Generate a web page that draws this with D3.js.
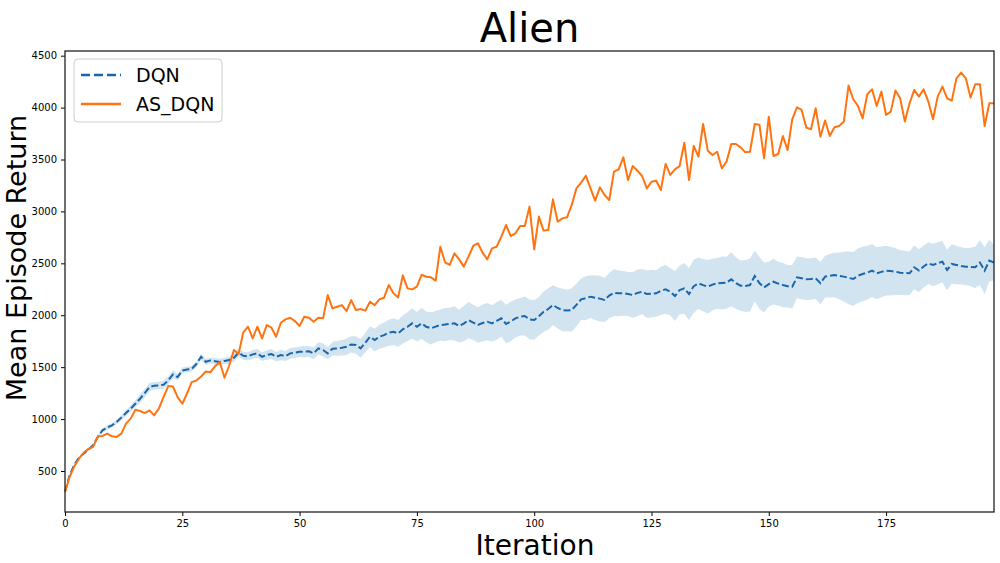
<!DOCTYPE html>
<html><head><meta charset="utf-8">
<script src="https://cdn.jsdelivr.net/npm/d3@7"></script>
<style>body{margin:0;background:#fff}svg{display:block}text{font-family:"DejaVu Sans",sans-serif}</style>
</head><body><svg id="c" width="1000" height="563"></svg>
<script>
const title = "Alien";
const seriesNames = ["DQN", "AS_DQN"];
const xTicks = [0, 25, 50, 75, 100, 125, 150, 175];
const yTicks = [500, 1000, 1500, 2000, 2500, 3000, 3500, 4000, 4500];
const dqn = [300,460,560,630,668,706,748,828,892,918,940,972,1014,1058,1100,1148,1196,1250,1308,1320,
1324,1330,1372,1430,1404,1468,1478,1484,1530,1600,1552,1565,1558,1550,1560,1568,1590,1640,1610,1604,
1623,1633,1600,1617,1626,1600,1617,1607,1633,1639,1649,1649,1652,1633,1681,1665,1633,1678,1681,1687,
1697,1719,1713,1681,1735,1793,1761,1793,1809,1832,1841,1825,1864,1889,1922,1889,1922,1889,1874,1890,
1906,1910,1916,1922,1896,1920,1954,1930,1906,1925,1938,1922,1945,1970,1916,1940,1970,1985,1993,1960,
1954,1990,2034,2060,2098,2070,2050,2045,2050,2100,2153,2165,2179,2169,2160,2147,2190,2217,2211,2211,
2205,2195,2215,2227,2204,2208,2211,2235,2249,2227,2185,2243,2259,2204,2280,2307,2290,2275,2295,2307,
2310,2313,2346,2310,2285,2281,2291,2378,2310,2268,2300,2323,2305,2291,2280,2275,2365,2356,2346,2350,
2356,2308,2372,2380,2388,2380,2372,2360,2349,2380,2397,2410,2430,2404,2418,2430,2425,2420,2410,2407,
2404,2462,2430,2470,2500,2484,2500,2516,2436,2494,2484,2475,2468,2465,2462,2507,2430,2526,2507];
const dqnStd = [5,8,10,12,14,15,16,18,20,20,22,24,25,28,30,35,40,42,40,38,
35,38,40,38,30,28,25,25,28,30,30,28,30,32,30,35,38,40,38,40,
42,45,40,45,48,45,50,48,52,50,50,55,52,58,60,62,58,65,70,75,
80,78,85,90,95,100,110,115,120,125,130,128,135,140,145,142,150,148,155,150,
150,160,155,165,158,170,175,168,172,178,180,175,182,178,185,190,185,180,188,192,
190,185,195,200,192,198,205,200,210,205,200,210,205,215,220,212,218,225,220,215,
212,220,225,218,228,230,222,232,235,228,240,235,245,250,255,248,252,258,250,245,
255,250,260,248,242,250,255,245,250,240,215,220,210,215,205,210,200,205,200,200,
200,205,200,210,215,225,240,255,260,262,263,260,255,250,245,240,235,225,215,215,
210,212,205,202,200,205,202,200,195,190,185,180,177,185,200,215,225,200,170];
const asDqn = [300,444,546,620,678,713,732,834,838,860,834,828,860,956,1004,1090,1078,1058,1084,1036,
1100,1212,1318,1314,1212,1148,1244,1356,1372,1410,1458,1452,1510,1548,1398,1516,1666,1628,1836,1890,
1777,1890,1777,1906,1880,1793,1928,1960,1976,1944,1896,1986,1976,1938,1976,1970,2195,2066,2082,2098,
2040,2146,2050,2060,2044,2130,2098,2153,2169,2291,2211,2172,2384,2259,2249,2275,2390,2371,2365,2333,
2660,2510,2484,2596,2538,2468,2564,2667,2693,2603,2538,2644,2660,2757,2869,2763,2789,2860,2860,3046,
2635,2950,2815,2821,3116,2901,2933,2943,3062,3222,3277,3344,3222,3104,3232,3158,3110,3383,3405,3521,
3302,3437,3392,3341,3222,3286,3296,3206,3457,3351,3405,3437,3662,3302,3630,3527,3842,3585,3543,3575,
3415,3479,3649,3649,3617,3569,3575,3842,3835,3511,3912,3534,3553,3726,3591,3887,4002,3977,3807,3791,
3993,3720,3875,3727,3810,3823,3865,4212,4080,4016,3897,4128,4176,4016,4154,3929,3961,4164,4090,3865,
4042,4170,4106,4176,4058,3887,4106,4202,4090,4067,4282,4337,4282,4096,4225,4225,3823,4042,4042];

const svg = d3.select("#c");
const L = 65, R = 994, T = 51, B = 512;
const x = d3.scaleLinear().domain([0, 198]).range([L, R]);
const y = d3.scaleLinear().domain([105, 4545]).range([B, T]);
const blue = "#1a66ad", orange = "#ff7410";

const idx = d3.range(dqn.length);
svg.append("path").datum(idx)
  .attr("fill", "#1f77b4").attr("fill-opacity", 0.2).attr("stroke", "none")
  .attr("d", d3.area().x(i => x(i)).y0(i => y(dqn[i] - dqnStd[i])).y1(i => y(dqn[i] + dqnStd[i])));
svg.append("path").datum(idx)
  .attr("fill", "none").attr("stroke", blue).attr("stroke-width", 2).attr("stroke-dasharray", "7,3")
  .attr("d", d3.line().x(i => x(i)).y(i => y(dqn[i])));
svg.append("path").datum(d3.range(asDqn.length))
  .attr("fill", "none").attr("stroke", orange).attr("stroke-width", 2).attr("stroke-linejoin", "round")
  .attr("d", d3.line().x(i => x(i)).y(i => y(asDqn[i])));

// axes
const gx = svg.append("g").attr("transform", `translate(0,${B})`)
  .call(d3.axisBottom(x).tickValues(xTicks).tickSize(4).tickPadding(4).tickFormat(d3.format("d")));
const gy = svg.append("g").attr("transform", `translate(${L},0)`)
  .call(d3.axisLeft(y).tickValues(yTicks).tickSize(4).tickPadding(4).tickFormat(d3.format("d")));
[gx, gy].forEach(g => {
  g.select(".domain").remove();
  g.selectAll("text").attr("font-size", 10).attr("fill", "#000").attr("font-family", "DejaVu Sans");
  g.selectAll("line").attr("stroke", "#000").attr("stroke-width", 1);
});
svg.append("rect").attr("x", L).attr("y", T).attr("width", R - L).attr("height", B - T)
  .attr("fill", "none").attr("stroke", "#222").attr("stroke-width", 1.3);

// texts
svg.append("text").attr("x", (L + R) / 2).attr("y", 42).attr("text-anchor", "middle")
  .attr("font-size", 40).text(title);
svg.append("text").attr("x", 535).attr("y", 555).attr("text-anchor", "middle")
  .attr("font-size", 28).text("Iteration");
svg.append("text").attr("transform", "translate(26,258) rotate(-90)").attr("text-anchor", "middle")
  .attr("font-size", 27).text("Mean Episode Return");

// legend
const lg = svg.append("g");
lg.append("rect").attr("x", 74).attr("y", 59).attr("width", 148).attr("height", 63).attr("rx", 4)
  .attr("fill", "#fff").attr("fill-opacity", 0.8).attr("stroke", "#ccc").attr("stroke-width", 1);
const items = [{name: seriesNames[0], color: blue, dash: "9,4", yy: 75},
               {name: seriesNames[1], color: orange, dash: null, yy: 104}];
items.forEach(it => {
  lg.append("line").attr("x1", 81).attr("x2", 121).attr("y1", it.yy).attr("y2", it.yy)
    .attr("stroke", it.color).attr("stroke-width", 2.5).attr("stroke-dasharray", it.dash);
  lg.append("text").attr("x", 136).attr("y", it.yy + 7).attr("font-size", 19).text(it.name);
});
</script></body></html>
